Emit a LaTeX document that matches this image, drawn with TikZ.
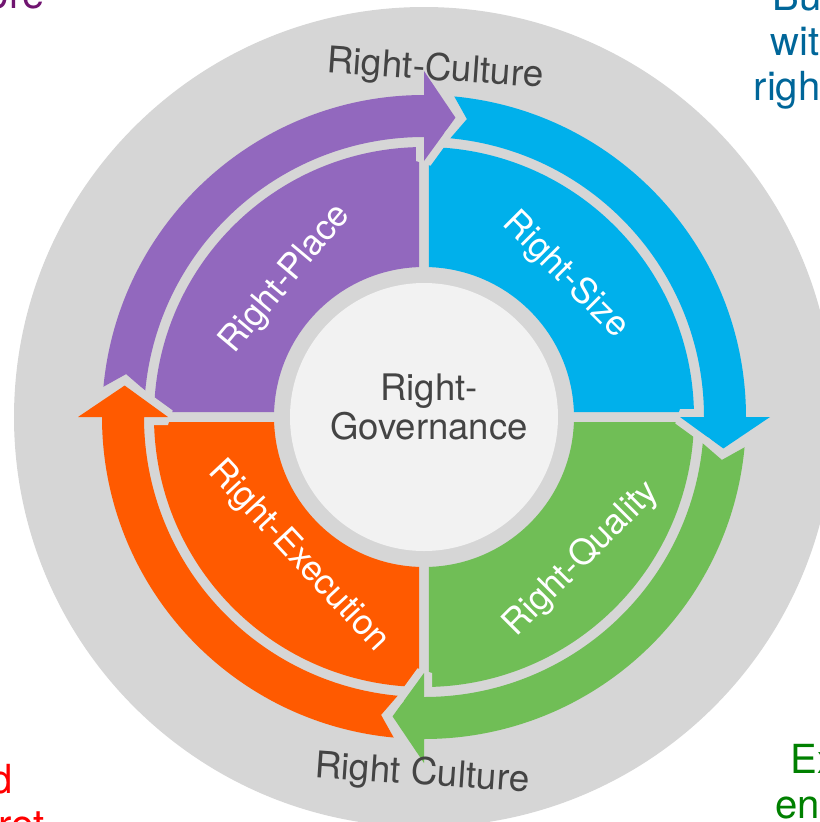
\documentclass[tikz,border=0pt]{standalone}
\usepackage{fontspec}
\setmainfont{TeX Gyre Heros}

\definecolor{rim}{RGB}{214,214,214}
\definecolor{hub}{RGB}{242,242,242}
\definecolor{purp}{RGB}{146,104,190}
\definecolor{sky}{RGB}{0,176,235}
\definecolor{leaf}{RGB}{112,190,86}
\definecolor{tang}{RGB}{255,90,0}
\definecolor{darktext}{RGB}{68,68,68}
\definecolor{plum}{RGB}{112,20,112}
\definecolor{ocean}{RGB}{0,102,153}
\definecolor{forest}{RGB}{0,128,0}

\begin{document}
\begin{tikzpicture}[
    lbl/.style={text=white, font=\fontsize{10}{12}\selectfont},
    rimtext/.style={text=darktext, font=\fontsize{10.5}{12}\selectfont},
    frag/.style={font=\fontsize{11.4}{13}\selectfont, inner sep=0pt}
  ]
  \useasboundingbox (0,0) rectangle (8.19,-8.22);
  \begin{scope}[shift={(4.24,-4.17)}]
    \fill[rim] (0,0) circle (4.10);
    \fill[hub] (0,0) circle (1.34);
    % quadrants
    \foreach \col/\q in {purp/90, sky/0, leaf/-90, tang/180}
      \fill[\col] ({\q+1.06}:2.70) arc[start angle=\q+1.06, end angle=\q+88.94, radius=2.70]
        -- ({\q+88.09}:1.50) arc[start angle=\q+88.09, end angle=\q+1.91, radius=1.50] -- cycle;
    % outer arrows
    \foreach \col/\q in {purp/90, sky/0, leaf/-90, tang/180}
      \path[fill=\col, preaction={draw=rim, line width=1.6mm, line join=bevel}]
        ({\q+84.6}:3.22) arc[start angle=\q+84.6, end angle=\q, radius=3.22]
        -- (\q:3.46) -- ({\q-6}:3.01) -- (\q:2.56) -- (\q:2.80)
        arc[start angle=\q, end angle=\q+84.6, radius=2.80] -- ({\q+81.8}:3.01) -- cycle;
    \node[lbl, rotate=50] (place) at (135:1.95) {Right-Place};
    \node[lbl, rotate=-45] (size) at (45:2.00) {Right-Size};
    \node[lbl, rotate=45] (quality) at (-42:2.12) {Right-Quality};
    \node[lbl, rotate=-47] (execution) at (228:1.88) {Right-Execution};
    \node[text=darktext, align=center, font=\fontsize{10.4}{10}\selectfont] (gov) at (0.05,0.10) {Right-\\Governance};
    \node[rimtext, rotate=-4] (culture) at (0.11,3.47) {Right-Culture};
    \node[rimtext, rotate=-4] (culturelow) at (-0.02,-3.58) {Right Culture};
  \end{scope}
  % cut-off slide text
  \node[frag, text=plum, anchor=base east] (ore) at (0.45,-0.08) {ore};
  \node[frag, text=ocean, anchor=base west] (bu) at (7.72,-0.10) {Bu};
  \node[frag, text=ocean, anchor=base west] (wit) at (7.70,-0.55) {wit};
  \node[frag, text=ocean, anchor=base west] (righ) at (7.53,-1.00) {righ};
  \node[frag, text=red, anchor=base east] (dd) at (0.13,-7.93) {d};
  \node[frag, text=red, anchor=base west] (ret) at (-0.02,-8.38) {ret};
  \node[frag, text=forest, anchor=base west] (ex) at (7.90,-7.73) {Ex};
  \node[frag, text=forest, anchor=base west] (en) at (7.75,-8.18) {en};
\end{tikzpicture}
\end{document}
